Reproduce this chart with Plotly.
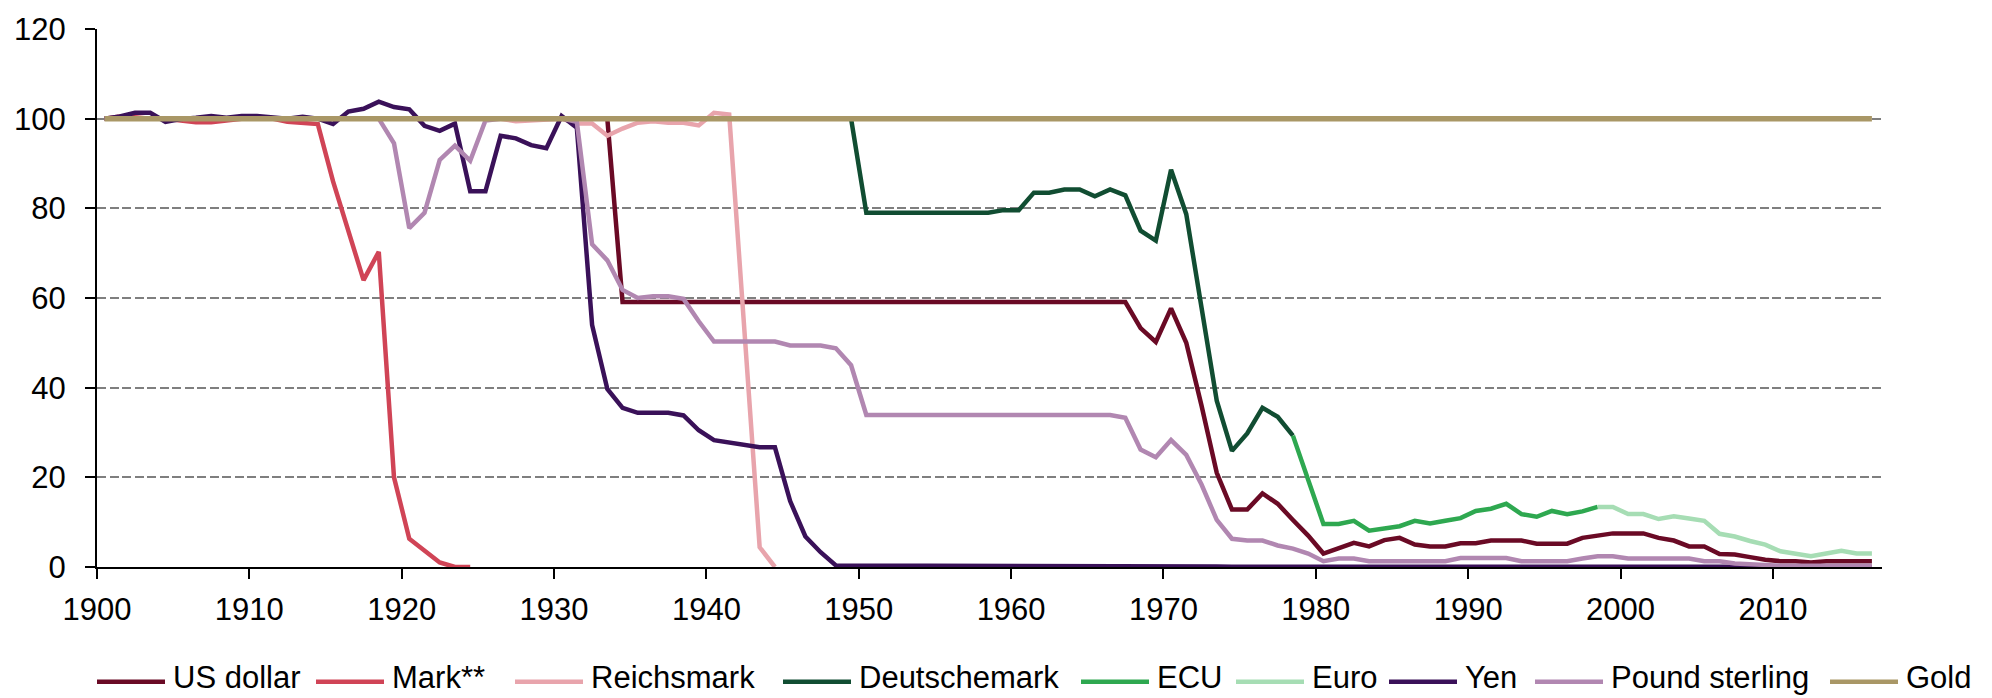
import plotly.graph_objects as go

# ---------------- data (index, gold = 100 in 1900) ----------------
usd_start = 1900
usd = [100, 100, 100, 100, 100, 100, 100, 100, 100, 100,
       100, 100, 100, 100, 100, 100, 100, 100, 100, 100,
       100, 100, 100, 100, 100, 100, 100, 100, 100, 100,
       100, 100, 100, 100, 59.1, 59.1, 59.1, 59.1, 59.1, 59.1,
       59.1, 59.1, 59.1, 59.1, 59.1, 59.1, 59.1, 59.1, 59.1, 59.1,
       59.1, 59.1, 59.1, 59.1, 59.1, 59.1, 59.1, 59.1, 59.1, 59.1,
       59.1, 59.1, 59.1, 59.1, 59.1, 59.1, 59.1, 59.1, 53.3, 50.2,
       57.7, 50.0, 36.0, 21.0, 12.8, 12.8, 16.4, 14.1, 10.5, 7.0,
       3.0, 4.1, 5.4, 4.6, 6.0, 6.5, 5.0, 4.6, 4.6, 5.3,
       5.3, 5.9, 5.9, 5.9, 5.2, 5.2, 5.2, 6.5, 7.0, 7.5,
       7.5, 7.5, 6.5, 5.9, 4.6, 4.6, 2.9, 2.8, 2.2, 1.6,
       1.3, 1.3, 1.0, 1.3, 1.3, 1.3, 1.3]

mark_start = 1900
mark = [100, 100.5, 100.3, 100, 100, 99.5, 99.2, 99.2, 99.6, 100,
        100, 100, 99.3, 99.0, 98.8, 86.0, 75.0, 64.0, 70.3, 20.0,
        6.3, 3.5, 1.0, 0.0, 0.0]

reichsmark_start = 1924
reichsmark = [100, 100, 100, 99.4, 99.6, 99.7, 100, 98.9, 98.9, 96.2,
              97.8, 99.1, 99.4, 99.1, 99.1, 98.5, 101.3, 100.9, 52.0, 4.4,
              0.0]

dm_start = 1948
dm = [100, 100, 79.0, 79.0, 79.0, 79.0, 79.0, 79.0, 79.0, 79.0,
      79.0, 79.6, 79.6, 83.5, 83.5, 84.2, 84.2, 82.7, 84.2, 82.9,
      75.0, 72.8, 88.6, 78.7, 58.0, 37.1, 25.9, 29.8, 35.5, 33.5,
      29.3]

ecu_start = 1978
ecu = [29.3, 19.5, 9.6, 9.6, 10.3, 8.1, 8.6, 9.1, 10.3, 9.7,
       10.3, 10.9, 12.5, 13.0, 14.1, 11.8, 11.2, 12.5, 11.8, 12.4,
       13.4]

euro_start = 1998
euro = [13.4, 13.4, 11.8, 11.8, 10.7, 11.3, 10.8, 10.3, 7.4, 6.8,
        5.8, 5.0, 3.5, 3.0, 2.4, 3.0, 3.6, 3.0, 3.0]

yen_start = 1900
yen = [100, 100.5, 101.3, 101.3, 99.3, 99.9, 100.2, 100.6, 100.2, 100.6,
       100.6, 100.3, 100.0, 100.4, 100.0, 98.8, 101.6, 102.2, 103.8, 102.6,
       102.1, 98.4, 97.3, 98.9, 83.8, 83.8, 96.2, 95.6, 94.1, 93.4,
       100.6, 98.0, 54.0, 39.7, 35.5, 34.4, 34.4, 34.4, 33.8, 30.5,
       28.3, 27.8, 27.2, 26.7, 26.7, 14.7, 6.8, 3.3, 0.35, 0.35,
       0.35, 0.35, 0.35, 0.35, 0.35, 0.35, 0.35, 0.35, 0.35, 0.35,
       0.35, 0.35, 0.35, 0.35, 0.35, 0.35, 0.35, 0.35, 0.35, 0.35,
       0.35, 0.35, 0.33, 0.1, 0.08, 0.08, 0.07, 0.07, 0.06, 0.05,
       0.04, 0.04, 0.04, 0.04, 0.04, 0.04, 0.04, 0.04, 0.04, 0.04,
       0.04, 0.04, 0.04, 0.04, 0.04, 0.04, 0.04, 0.04, 0.04, 0.04,
       0.04, 0.04, 0.04, 0.04, 0.04, 0.04, 0.03, 0.03, 0.03, 0.03,
       0.02, 0.02, 0.02, 0.02, 0.02, 0.02, 0.02]

pound_start = 1900
pound = [100, 100, 100, 100, 100, 100, 100, 100, 100, 100,
         100, 100, 100, 100, 100, 100, 100, 100, 100, 94.5,
         75.6, 79.0, 90.8, 94.0, 90.6, 99.6, 100, 100, 100, 100,
         100, 99.3, 72.0, 68.4, 61.8, 60.0, 60.4, 60.4, 59.8, 54.8,
         50.3, 50.3, 50.3, 50.3, 50.3, 49.4, 49.4, 49.4, 48.8, 45.0,
         33.9, 33.9, 33.9, 33.9, 33.9, 33.9, 33.9, 33.9, 33.9, 33.9,
         33.9, 33.9, 33.9, 33.9, 33.9, 33.9, 33.9, 33.3, 26.2, 24.5,
         28.3, 25.0, 18.4, 10.5, 6.3, 5.9, 5.9, 4.8, 4.1, 3.0,
         1.3, 1.9, 1.9, 1.3, 1.3, 1.3, 1.3, 1.3, 1.3, 2.0,
         2.0, 2.0, 2.0, 1.3, 1.3, 1.3, 1.3, 1.9, 2.4, 2.4,
         1.9, 1.9, 1.9, 1.9, 1.9, 1.3, 1.3, 0.8, 0.6, 0.3,
         0.3, 0.3, 0.3, 0.3, 0.3, 0.3, 0.3]

gold_start = 1900
gold = [100, 100, 100, 100, 100, 100, 100, 100, 100, 100,
        100, 100, 100, 100, 100, 100, 100, 100, 100, 100,
        100, 100, 100, 100, 100, 100, 100, 100, 100, 100,
        100, 100, 100, 100, 100, 100, 100, 100, 100, 100,
        100, 100, 100, 100, 100, 100, 100, 100, 100, 100,
        100, 100, 100, 100, 100, 100, 100, 100, 100, 100,
        100, 100, 100, 100, 100, 100, 100, 100, 100, 100,
        100, 100, 100, 100, 100, 100, 100, 100, 100, 100,
        100, 100, 100, 100, 100, 100, 100, 100, 100, 100,
        100, 100, 100, 100, 100, 100, 100, 100, 100, 100,
        100, 100, 100, 100, 100, 100, 100, 100, 100, 100,
        100, 100, 100, 100, 100, 100, 100]

series_names = ["US dollar", "Mark**", "Reichsmark", "Deutschemark", "ECU",
                "Euro", "Yen", "Pound sterling", "Gold"]
series_data = [(usd_start, usd), (mark_start, mark), (reichsmark_start, reichsmark),
               (dm_start, dm), (ecu_start, ecu), (euro_start, euro),
               (yen_start, yen), (pound_start, pound), (gold_start, gold)]
tick_years = [1900, 1910, 1920, 1930, 1940, 1950, 1960, 1970, 1980, 1990, 2000, 2010]

# ---------------- styling ----------------
colors = ["#6A0A25", "#D04456", "#E8A4AC", "#114D32", "#2EA850",
          "#A6DDB4", "#3A1159", "#B187B1", "#A99766"]
widths = [4.5, 4.5, 4.5, 4.5, 4.5, 4.5, 4.5, 4.5, 5.5]
FONT = "Liberation Sans, Arial, sans-serif"
W, H = 1992, 698
L, R, T, B = 97, 110, 23, 131
PW, PH = W - L - R, H - T - B

fig = go.Figure()
for name, (start, vals), col, lw in zip(series_names, series_data, colors, widths):
    xs = [f"{start + i}-07-01" for i in range(len(vals))]
    fig.add_trace(go.Scatter(x=xs, y=vals, mode="lines", name=name,
                             line=dict(color=col, width=lw), showlegend=False))

fig.update_layout(
    width=W, height=H,
    margin=dict(l=L, r=R, t=T, b=B, pad=0),
    paper_bgcolor="white", plot_bgcolor="white",
    font=dict(family=FONT, size=31, color="black"),
)
fig.update_xaxes(
    type="date", range=["1900-01-01", "2017-02-28"],
    tickvals=[f"{y}-01-01" for y in tick_years],
    ticktext=[str(y) for y in tick_years],
    showgrid=False, zeroline=False,
    showline=True, linecolor="black", linewidth=2,
    ticks="outside", ticklen=10, tickwidth=2, tickcolor="black",
    tickfont=dict(family=FONT, size=31, color="black"),
    ticklabelstandoff=4,
)
fig.update_yaxes(
    range=[0, 120], tick0=0, dtick=20,
    showgrid=True, gridcolor="#7F7F7F", gridwidth=2, griddash="9px,3.5px",
    zeroline=False,
    showline=True, linecolor="black", linewidth=2,
    ticks="outside", ticklen=10, tickwidth=2, tickcolor="black",
    tickfont=dict(family=FONT, size=31, color="black"),
    ticklabelstandoff=13,
)

# ---------------- legend (drawn below the plot) ----------------
legend_px = [97, 316, 515, 783, 1081, 1236, 1389, 1535, 1830]
legend_y = (H - B - 683) / PH
text_bottom = (H - B - 697) / PH
for name, col, px in zip(series_names, colors, legend_px):
    x0 = (px - L) / PW
    x1 = (px + 68 - L) / PW
    fig.add_shape(type="line", xref="paper", yref="paper",
                  x0=x0, x1=x1, y0=legend_y, y1=legend_y,
                  line=dict(color=col, width=4.5))
    fig.add_annotation(xref="paper", yref="paper", x=(px + 75 - L) / PW, y=text_bottom,
                       text=name, showarrow=False, xanchor="left", yanchor="bottom",
                       borderpad=0,
                       font=dict(family=FONT, size=31, color="black"))

fig.write_html(
    "out.html",
    config={"displayModeBar": False},
    post_script="document.body.style.margin='0';document.body.style.overflow='hidden';",
)
